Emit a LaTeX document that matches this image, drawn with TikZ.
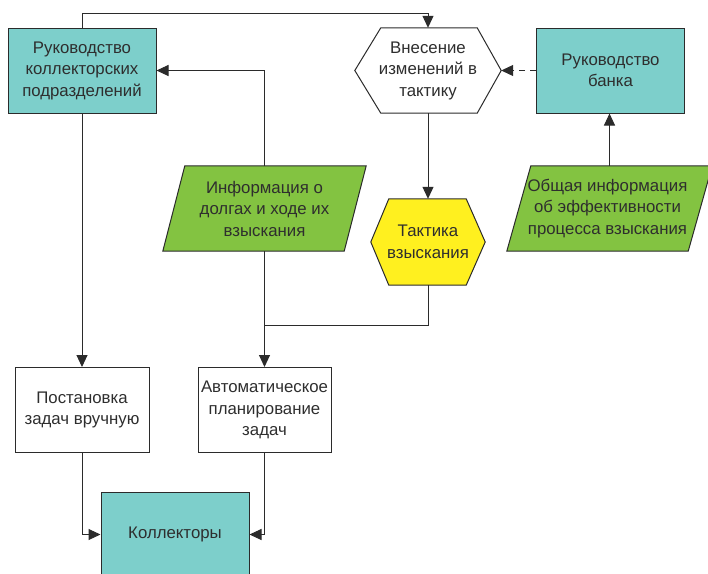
\documentclass[tikz,border=0pt]{standalone}
\usepackage{fontspec}
\setmainfont{Liberation Sans}
\usetikzlibrary{arrows.meta}
\definecolor{teal}{HTML}{7DCFCB}
\definecolor{grn}{HTML}{83C341}
\definecolor{yel}{HTML}{FFF01F}
\definecolor{ln}{HTML}{2B2B2B}
\definecolor{txt}{HTML}{2E2E2E}
\tikzset{
  base/.style={font=\fontsize{16.8}{21.5}\selectfont, text=txt, align=center, inner sep=0pt},
  box/.style={base, draw=ln, line width=1pt, minimum width=148pt, minimum height=85pt},
  ghost/.style={base, minimum height=85pt},
  arr/.style={draw=ln, line width=1pt, -{Triangle[length=12pt,width=11pt]}},
  ln/.style={draw=ln, line width=1pt},
}
\begin{document}
\begin{tikzpicture}[x=1pt,y=-1pt]
\useasboundingbox (0,0) rectangle (708,573);
% boxes
\node[box, fill=teal] (A) at (82,70.5) {Руководство\\коллекторских\\подразделений};
\node[box, fill=teal] (C) at (610.5,70.5) {Руководство\\банка};
\node[box, minimum width=134pt] (G) at (82,410) {Постановка\\задач вручную};
\node[box, minimum width=133pt] (H) at (264.5,410) {Автоматическое\\планирование\\задач};
\node[box, fill=teal] (I) at (175,534.5) {Коллекторы};
% hexagon B
\node[ghost, minimum width=146pt] (B) at (428,70.5) {};
\draw[ln, fill=white] (B.west) -- ([xshift=26pt]B.north west) -- ([xshift=-24pt]B.north east) -- (B.east) -- ([xshift=-24pt]B.south east) -- ([xshift=26pt]B.south west) -- cycle;
\node[base] at (B) {Внесение\\изменений в\\тактику};
% hexagon F
\node[ghost, minimum width=114pt, minimum height=86pt] (F) at (428,242) {};
\draw[ln, fill=yel] (F.west) -- ([xshift=18pt]F.north west) -- ([xshift=-19pt]F.north east) -- (F.east) -- ([xshift=-19pt]F.south east) -- ([xshift=18pt]F.south west) -- cycle;
\node[base] at (F) {Тактика\\взыскания};
% parallelogram D
\node[ghost, minimum width=203pt] (D) at (264.5,208.5) {};
\draw[ln, fill=grn] ([xshift=22pt]D.north west) -- (D.north east) -- ([xshift=-22pt]D.south east) -- (D.south west) -- cycle;
\node[base] at (D) {Информация о\\долгах и ходе их\\взыскания};
% parallelogram E
\node[ghost, minimum width=205pt] (E) at (609.5,208.5) {};
\draw[ln, fill=grn] ([xshift=24pt]E.north west) -- (E.north east) -- ([xshift=-24pt]E.south east) -- (E.south west) -- cycle;
\node[base] at ([xshift=-2pt]E) {Общая информация\\об эффективности\\процесса взыскания};
% connectors
\draw[arr] (A.north) -- ++(0,-14) -| (B.north);
\draw[arr] (D.north) |- (A.east);
\draw[arr, dashed, dash pattern=on 6pt off 5pt] (C.west) -- (B.east);
\draw[arr] (E.north) -- (E.north |- C.south);
\draw[arr] (B.south) -- (F.north);
\coordinate (j) at (264.5,325);
\draw[ln] (F.south) |- (j);
\draw[arr] (D.south) -- (H.north);
\draw[arr] (A.south) -- (G.north);
\draw[arr] (G.south) |- (I.west);
\draw[arr] (H.south) |- (I.east);
\end{tikzpicture}
\end{document}
